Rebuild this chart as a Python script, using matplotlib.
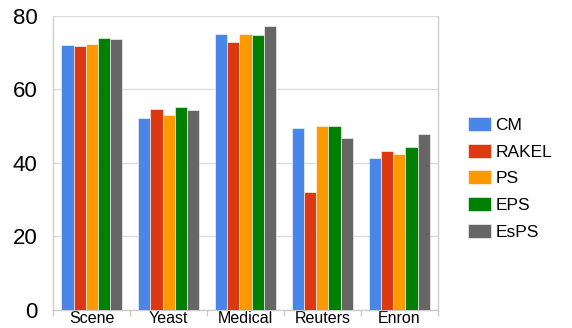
import numpy as np
import matplotlib
matplotlib.use('Agg')
import matplotlib.pyplot as plt
from matplotlib.patches import Patch

plt.rcParams['font.family'] = ['Liberation Sans', 'DejaVu Sans']

# 数据
datasets = ['Scene', 'Yeast', 'Medical', 'Reuters', 'Enron']
methods = ['CM', 'RAKEL', 'PS', 'EPS', 'EsPS']
colors = ['#4a86e8', '#dc3912', '#ff9900', '#008000', '#666666']

cm = [72.1, 52.2, 75.0, 49.5, 41.2]
rakel = [71.8, 54.7, 72.7, 32.0, 43.1]
ps = [72.2, 53.0, 75.0, 50.1, 42.5]
eps = [74.0, 55.2, 74.7, 49.9, 44.3]
esps = [73.7, 54.4, 77.1, 46.7, 47.7]
series = [cm, rakel, ps, eps, esps]

y_ticks = [0, 20, 40, 60, 80]

fig = plt.figure(figsize=(5.72, 3.28), dpi=100)
ax = fig.add_axes([0.0927, 0.0549, 0.673, 0.8978])

x = np.arange(len(datasets))
bar_w = 0.156
for i, (vals, c) in enumerate(zip(series, colors)):
    offs = (i - 2) * bar_w
    ax.bar(x + offs, vals, bar_w, color=c, edgecolor='white',
           linewidth=0.4, zorder=3)

ax.set_xlim(-0.5, len(datasets) - 0.5)
ax.set_ylim(0, 80)
ax.set_yticks(y_ticks)
ax.set_yticklabels([str(v) for v in y_ticks], fontsize=16)
ax.tick_params(axis='y', length=0, pad=11)
ax.grid(axis='y', color='#dddddd', linewidth=1, zorder=0)

# x轴：标签居中，刻度线放在组之间
ax.set_xticks(x)
ax.set_xticklabels(datasets, fontsize=11.5)
ax.tick_params(axis='x', which='major', length=0, pad=1)
ax.set_xticks(np.arange(-0.5, len(datasets)), minor=True)
ax.tick_params(axis='x', which='minor', length=4, color='#cccccc', width=1)

for side in ['left', 'right', 'bottom']:
    ax.spines[side].set_color('#cccccc')
    ax.spines[side].set_linewidth(1)
ax.spines['top'].set_visible(False)

handles = [Patch(facecolor=c, edgecolor='white', linewidth=0.4) for c in colors]
fig.legend(handles, methods, loc='upper left', bbox_to_anchor=(0.803, 0.67),
           frameon=False, fontsize=12.5, handlelength=1.32, handleheight=0.86,
           handletextpad=0.25, labelspacing=0.62, borderpad=0)

fig.savefig('out.png', dpi=100)
